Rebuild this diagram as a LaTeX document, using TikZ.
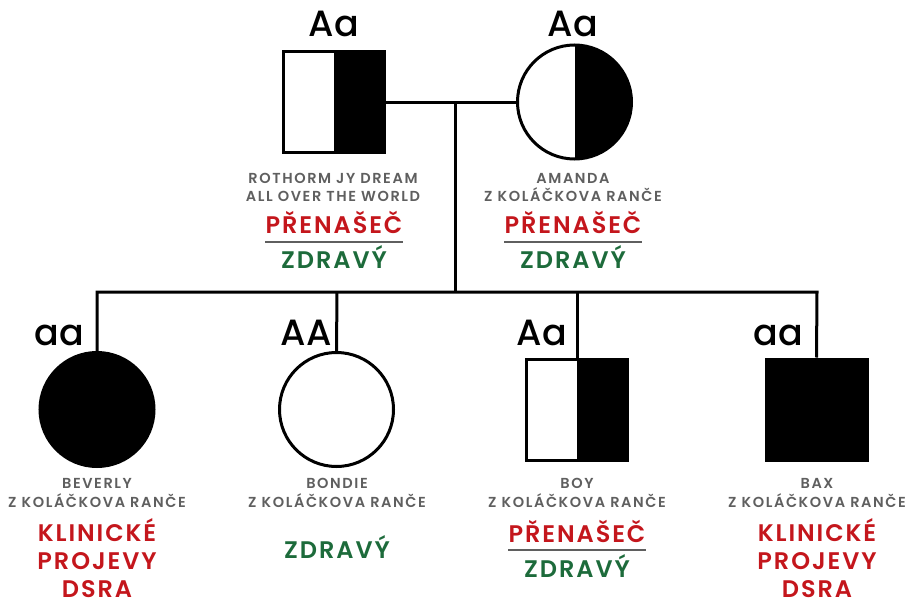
\documentclass[tikz,border=0pt]{standalone}
\usepackage{fontspec}
\setmainfont{Poppins}[UprightFont=* Medium, BoldFont=* SemiBold]
\newfontfamily\namefont{Poppins}[UprightFont=* SemiBold, LetterSpace=11]
\newfontfamily\statfont{Poppins}[UprightFont=* SemiBold, LetterSpace=8]
\definecolor{redtxt}{HTML}{C4161C}
\definecolor{greentxt}{HTML}{1D6B3B}
\definecolor{graytxt}{HTML}{5F5F5F}
\begin{document}
\begin{tikzpicture}[x=1pt,y=-1pt,
  ln/.style={line width=3pt,black},
  sq/.style={draw,line width=3pt,minimum size=101pt,inner sep=0,fill=white},
  ci/.style={circle,draw,line width=3pt,minimum size=114pt,inner sep=0,fill=white},
  half/.style={path picture={\fill[black] (path picture bounding box.north) rectangle (path picture bounding box.south east);}},
  full/.style={fill=black},
  geno/.style={font=\fontsize{36.5}{36}\selectfont,inner sep=0,anchor=base},
  nm/.style={font=\namefont\fontsize{14.5}{18}\selectfont,text=graytxt,inner sep=0,anchor=base,text depth=0pt},
  st/.style={font=\statfont\fontsize{24}{30}\selectfont,inner sep=0,anchor=base,text depth=0pt},
  rd/.style={st,text=redtxt},
  gr/.style={st,text=greentxt},
  rule/.style={draw=graytxt,line width=1.2pt}]
\useasboundingbox (0,0) rectangle (905,602);
% parents
\node[sq,half] (f) at (334,102) {};
\node[ci,half] (m) at (574.5,102) {};
\coordinate (mc) at (455,102);
\coordinate (sc) at (455,292);
\draw[ln] (f.east) -- (m.west);
\draw[ln] (mc) -- (sc);
% children
\node[ci,full] (c1) at (97,409.5) {};
\node[ci] (c2) at (336.5,409.5) {};
\node[sq,half] (c3) at (577,409.5) {};
\node[sq,full] (c4) at (816.5,409.5) {};
\coordinate (s1) at (97,292);
\coordinate (s2) at (337,292);
\coordinate (s3) at (577,292);
\coordinate (s4) at (817,292);
\draw[ln] (c1.north) -- (s1) -- (s4) -- (c4.north);
\draw[ln] (s2) -- (c2.north);
\draw[ln] (s3) -- (c3.north);
% genotypes
\node[geno] (gf) at (334,37) {Aa};
\node[geno] (gm) at (573,37) {Aa};
\node[geno,anchor=base east] (g1) at (84,345) {aa};
\node[geno,anchor=base east] (g2) at (332,345) {AA};
\node[geno,anchor=base east] (g3) at (567,345) {Aa};
\node[geno,anchor=base east] (g4) at (803,345) {aa};
% father labels
\node[nm] (nf1) at (333,183) {ROTHORM JY DREAM};
\node[nm] (nf2) at (333,201) {ALL OVER THE WORLD};
\node[rd] (pf) at (334,233) {PŘENAŠEČ};
\draw[rule] ([yshift=-9pt]pf.base west) -- ([yshift=-9pt]pf.base east);
\node[gr] (zf) at (334,268) {ZDRAVÝ};
% mother labels
\node[nm] (nm1) at (573,183) {AMANDA};
\node[nm] (nm2) at (573,201) {Z KOLÁČKOVA RANČE};
\node[rd] (pm) at (573,233) {PŘENAŠEČ};
\draw[rule] ([yshift=-9pt]pm.base west) -- ([yshift=-9pt]pm.base east);
\node[gr] (zm) at (573,268) {ZDRAVÝ};
% Beverly
\node[nm] (n11) at (97,488) {BEVERLY};
\node[nm] (n12) at (97,507) {Z KOLÁČKOVA RANČE};
\node[rd] (k1) at (97,541) {KLINICKÉ};
\node[rd] (p1) at (97,569) {PROJEVY};
\node[rd] (d1) at (97,597) {DSRA};
% Bondie
\node[nm] (n21) at (337,488) {BONDIE};
\node[nm] (n22) at (337,507) {Z KOLÁČKOVA RANČE};
\node[gr] (z2) at (337,558) {ZDRAVÝ};
% Boy
\node[nm] (n31) at (577,488) {BOY};
\node[nm] (n32) at (577,507) {Z KOLÁČKOVA RANČE};
\node[rd] (p3) at (577,542) {PŘENAŠEČ};
\draw[rule] ([yshift=-8pt]p3.base west) -- ([yshift=-8pt]p3.base east);
\node[gr] (z3) at (577,577) {ZDRAVÝ};
% Bax
\node[nm] (n41) at (817,488) {BAX};
\node[nm] (n42) at (817,507) {Z KOLÁČKOVA RANČE};
\node[rd] (k4) at (817,541) {KLINICKÉ};
\node[rd] (p4) at (817,569) {PROJEVY};
\node[rd] (d4) at (817,597) {DSRA};
\end{tikzpicture}
\end{document}
